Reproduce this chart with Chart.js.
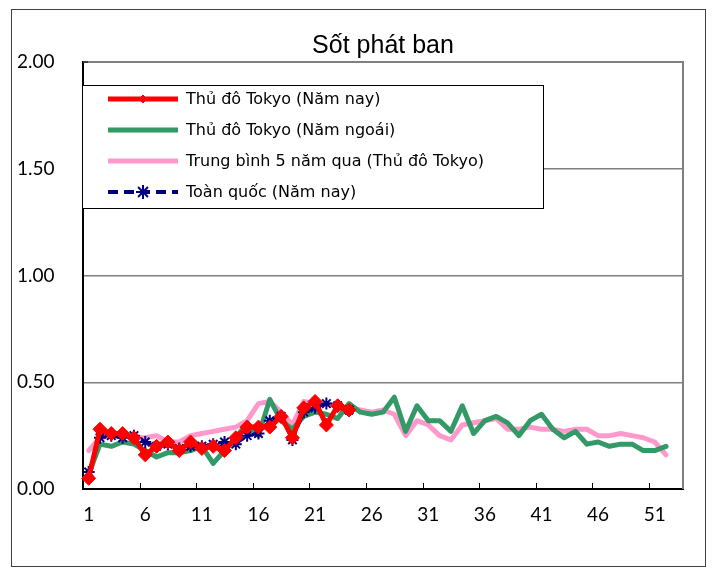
<!DOCTYPE html>
<html>
<head>
<meta charset="utf-8">
<script src="https://cdn.jsdelivr.net/npm/chart.js@4"></script>
<style>
  html, body { margin: 0; padding: 0; background: #fff; }
  #wrap { width: 713px; height: 569px; }
</style>
</head>
<body>
<div id="wrap"><canvas id="chart" width="713" height="569"></canvas></div>
<script>
const weeks = [];
for (let i = 1; i <= 53; i++) weeks.push(String(i));

const seriesNames = [
    "Thủ đô Tokyo (Năm nay)",
    "Thủ đô Tokyo (Năm ngoái)",
    "Trung bình 5 năm qua (Thủ đô Tokyo)",
    "Toàn quốc (Năm nay)"
];

const tokyoThisYear = [0.05, 0.28, 0.26, 0.26, 0.24, 0.16, 0.20, 0.22, 0.18, 0.22, 0.19, 0.20, 0.18,
    0.24, 0.29, 0.29, 0.29, 0.34, 0.24, 0.38, 0.41, 0.30, 0.39, 0.37];

const tokyoLastYear = [0.07, 0.21, 0.20, 0.22, 0.21, 0.18, 0.15, 0.17, 0.17, 0.18, 0.20, 0.12, 0.18,
    0.24, 0.31, 0.25, 0.42, 0.32, 0.28, 0.34, 0.36, 0.35, 0.33, 0.40, 0.36,
    0.35, 0.36, 0.43, 0.27, 0.39, 0.32, 0.32, 0.27, 0.39, 0.26, 0.32, 0.34, 0.31, 0.25,
    0.32, 0.35, 0.28, 0.24, 0.27, 0.21, 0.22, 0.20, 0.21, 0.21, 0.18, 0.18, 0.20];

const tokyoAvg5y = [0.18, 0.24, 0.25, 0.25, 0.24, 0.24, 0.25, 0.22, 0.22, 0.25, 0.26, 0.27, 0.28,
    0.29, 0.32, 0.40, 0.41, 0.36, 0.30, 0.41, 0.40, 0.40, 0.39, 0.38, 0.37, 0.36,
    0.37, 0.35, 0.25, 0.32, 0.30, 0.25, 0.23, 0.30, 0.31, 0.32, 0.33, 0.28, 0.28,
    0.29, 0.28, 0.28, 0.27, 0.28, 0.28, 0.25, 0.25, 0.26, 0.25, 0.24, 0.22, 0.16];

const nationwideThisYear = [0.08, 0.24, 0.25, 0.24, 0.25, 0.22, 0.20, 0.21, 0.19, 0.20, 0.20, 0.21, 0.22,
    0.21, 0.25, 0.26, 0.32, 0.34, 0.23, 0.36, 0.38, 0.40, 0.39, 0.37];

const yTicks = [0, 0.5, 1, 1.5, 2];

const RED = "#ff0000";
const GREEN = "#339966";
const PINK = "#ff99cc";
const NAVY = "#000080";

const LABEL_FONT = "'Lato', 'DejaVu Sans', sans-serif";

// frame, title, plot border, inner ticks and the boxed legend
const decorations = {
    id: "decorations",
    beforeDraw(chart) {
        const c = chart.ctx;
        c.save();
        c.fillStyle = "#fff";
        c.fillRect(0, 0, chart.width, chart.height);
        c.strokeStyle = "#404040";
        c.lineWidth = 1;
        c.strokeRect(11.5, 9.5, 694, 557);
        c.restore();
    },
    afterDatasetsDraw(chart) {
        const c = chart.ctx;
        const a = chart.chartArea;
        const x = chart.scales.x;
        c.save();
        // top and right edge of the plot
        c.strokeStyle = "#808080";
        c.lineWidth = 2;
        c.beginPath();
        c.moveTo(a.left, a.top);
        c.lineTo(a.right, a.top);
        c.lineTo(a.right, a.bottom);
        c.stroke();
        // small ticks inside the plot
        c.strokeStyle = "#000";
        c.lineWidth = 1;
        const step = x.getPixelForValue(1) - x.getPixelForValue(0);
        for (let i = 5; i < weeks.length; i += 5) {
            const px = Math.round(x.getPixelForValue(i) - step / 2) + 0.5;
            c.beginPath();
            c.moveTo(px, a.bottom);
            c.lineTo(px, a.bottom - 6);
            c.stroke();
        }
        c.beginPath();
        c.moveTo(a.left, a.top);
        c.lineTo(a.left + 5, a.top);
        c.stroke();

        // title
        c.fillStyle = "#000";
        c.font = "25px 'Liberation Sans', Arial, sans-serif";
        c.textAlign = "center";
        c.textBaseline = "alphabetic";
        c.fillText("Sốt phát ban", (a.left + a.right) / 2, 53);

        // legend box
        const bx = 82, by = 85, bw = 461, bh = 123;
        c.fillStyle = "#fff";
        c.fillRect(bx, by, bw, bh);
        c.strokeStyle = "#000";
        c.lineWidth = 1;
        c.strokeRect(bx + 0.5, by + 0.5, bw, bh);

        chart.data.datasets.forEach((ds, row) => {
            const ly = 99 + row * 31;
            c.save();
            c.strokeStyle = ds.borderColor;
            c.lineWidth = ds.legendWidth;
            c.setLineDash(ds.borderDash || []);
            c.beginPath();
            c.moveTo(108, ly);
            c.lineTo(178, ly);
            c.stroke();
            c.restore();
            if (ds.pointRadius > 0) {
                c.save();
                c.fillStyle = ds.pointBackgroundColor;
                c.strokeStyle = ds.pointBorderColor;
                c.lineWidth = ds.pointBorderWidth;
                Chart.helpers.drawPoint(c, {
                    pointStyle: ds.pointStyle,
                    radius: ds.legendPointRadius,
                    borderWidth: ds.pointBorderWidth,
                    rotation: 0
                }, 143, ly);
                c.restore();
            }
            c.fillStyle = "#000";
            c.font = "16px 'DejaVu Sans', sans-serif";
            c.textAlign = "left";
            c.textBaseline = "middle";
            c.fillText(ds.label, 186, ly + 1);
        });
        c.restore();
    }
};

const datasets = [
    {
        label: seriesNames[0],
        data: tokyoThisYear,
        borderColor: RED,
        backgroundColor: RED,
        borderWidth: 5,
        legendWidth: 5,
        pointStyle: "rectRot",
        pointRadius: 7,
        legendPointRadius: 4,
        pointBorderWidth: 1,
        pointBackgroundColor: RED,
        pointBorderColor: RED,
        order: 0
    },
    {
        label: seriesNames[1],
        data: tokyoLastYear,
        borderColor: GREEN,
        backgroundColor: GREEN,
        borderWidth: 5,
        legendWidth: 5,
        pointRadius: 0,
        order: 2
    },
    {
        label: seriesNames[2],
        data: tokyoAvg5y,
        borderColor: PINK,
        backgroundColor: PINK,
        borderWidth: 5,
        legendWidth: 5,
        pointRadius: 0,
        order: 3
    },
    {
        label: seriesNames[3],
        data: nationwideThisYear,
        borderColor: NAVY,
        backgroundColor: NAVY,
        borderWidth: 3,
        legendWidth: 4,
        borderDash: [10, 6],
        pointStyle: "star",
        pointRadius: 6,
        legendPointRadius: 7,
        pointBorderWidth: 2,
        pointBackgroundColor: NAVY,
        pointBorderColor: NAVY,
        order: 1
    }
];

new Chart(document.getElementById("chart"), {
    type: "line",
    data: {
        labels: weeks,
        datasets: datasets
    },
    options: {
        responsive: false,
        animation: false,
        events: [],
        layout: {
            padding: {top: 62, right: 30, left: 17, bottom: 0}
        },
        plugins: {
            legend: {display: false},
            title: {display: false},
            tooltip: {enabled: false}
        },
        elements: {
            line: {tension: 0, borderJoinStyle: "round", borderCapStyle: "round"}
        },
        scales: {
            x: {
                type: "category",
                offset: true,
                grid: {display: false, drawTicks: false},
                border: {display: true, color: "#000", width: 2},
                ticks: {
                    autoSkip: false,
                    maxRotation: 0,
                    padding: 14,
                    color: "#000",
                    font: {family: LABEL_FONT, size: 19},
                    callback: function (val, index) {
                        return index % 5 === 0 ? weeks[index] : "";
                    }
                },
                afterFit: function (s) { s.height = 80; }
            },
            y: {
                min: 0,
                max: 2,
                afterBuildTicks: function (s) {
                    s.ticks = yTicks.map(v => ({value: v}));
                },
                grid: {color: "#808080", lineWidth: 1.5, drawTicks: false},
                border: {display: true, color: "#000", width: 2},
                ticks: {
                    crossAlign: "far",
                    color: "#000",
                    font: {family: LABEL_FONT, size: 19},
                    callback: function (v) { return Number(v).toFixed(2); }
                },
                afterFit: function (s) { s.width = 66; }
            }
        }
    },
    plugins: [decorations]
});
</script>
</body>
</html>
